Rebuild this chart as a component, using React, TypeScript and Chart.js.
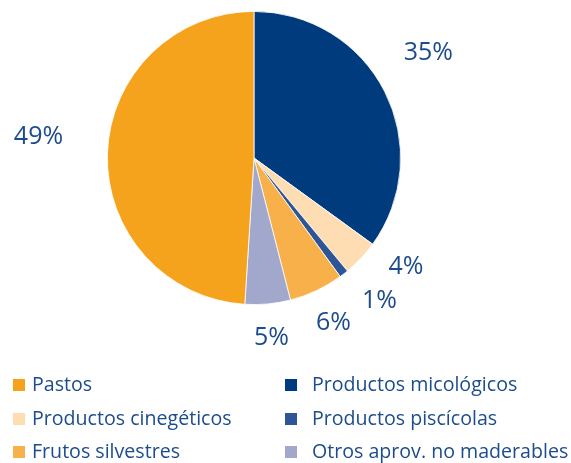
import React, { useEffect, useRef } from "react";
import { Chart, registerables } from "chart.js";

Chart.register(...registerables);

const categories = [
  "Productos micológicos",
  "Productos cinegéticos",
  "Productos piscícolas",
  "Frutos silvestres",
  "Otros aprov. no maderables",
  "Pastos",
];
const values = [35, 4, 1, 6, 5, 49];
const percentLabels = ["35%", "4%", "1%", "6%", "5%", "49%"];
const colors = ["#003B7D", "#FDDDB1", "#2E5596", "#F8B04B", "#A1A8CB", "#F5A21D"];
const legendOrder = [5, 0, 1, 2, 3, 4];

const TEXT_COLOR = "#1D4C8C";
const FONT = "'Open Sans', 'DejaVu Sans', sans-serif";

const labelPlugin = {
  id: "pctLabels",
  afterDraw(chart: any, _args: any, opts: any) {
    const ctx = chart.ctx;
    const meta = chart.getDatasetMeta(0);
    ctx.save();
    ctx.fillStyle = TEXT_COLOR;
    ctx.font = `25px ${FONT}`;
    ctx.textAlign = "center";
    ctx.textBaseline = "middle";
    meta.data.forEach((arc: any, i: number) => {
      const { x, y, startAngle, endAngle, outerRadius } = arc.getProps(
        ["x", "y", "startAngle", "endAngle", "outerRadius"],
        true
      );
      const mid = (startAngle + endAngle) / 2;
      const r = outerRadius + 40;
      const n = opts.nudge[i] || [0, 0];
      ctx.fillText(percentLabels[i], x + Math.cos(mid) * r + n[0], y + Math.sin(mid) * r + n[1]);
    });

    // legend
    ctx.font = `19.6px ${FONT}`;
    ctx.textAlign = "left";
    ctx.textBaseline = "middle";
    const colX = [13, 285];
    const textOff = 19;
    const rowY = [385, 419, 452];
    const box = 12;
    legendOrder.forEach((idx, k) => {
      const col = k % 2;
      const row = Math.floor(k / 2);
      const lx = colX[col];
      const ly = rowY[row];
      ctx.fillStyle = colors[idx];
      ctx.fillRect(lx, ly - box / 2, box, box);
      ctx.fillStyle = TEXT_COLOR;
      ctx.fillText(categories[idx], lx + textOff + (col === 1 ? 8 : 0), ly);
    });
    ctx.restore();
  },
};

export default function App() {
  const ref = useRef<HTMLCanvasElement>(null);
  useEffect(() => {
    if (!ref.current) return;
    const chart = new Chart(ref.current, {
      type: "pie",
      data: {
        labels: categories,
        datasets: [
          {
            data: values,
            backgroundColor: colors,
            borderColor: "#ffffff",
            borderWidth: 0.8,
          },
        ],
      },
      options: {
        responsive: false,
        animation: false,
        devicePixelRatio: 1,
        layout: { padding: { top: 11, bottom: 158, left: 107, right: 170 } },
        plugins: {
          legend: { display: false },
          tooltip: { enabled: false },
          pctLabels: {
            nudge: [
              [8, -20],
              [16, -19],
              [11, -5],
              [0, -4],
              [0, -6],
              [-29, -15],
            ],
          },
        } as any,
      },
      plugins: [labelPlugin],
    });
    return () => chart.destroy();
  }, []);
  return (
    <div style={{ position: "absolute", left: 0, top: 0, width: 571, height: 463, background: "#fff" }}>
      <canvas ref={ref} width={571} height={463} />
    </div>
  );
}
